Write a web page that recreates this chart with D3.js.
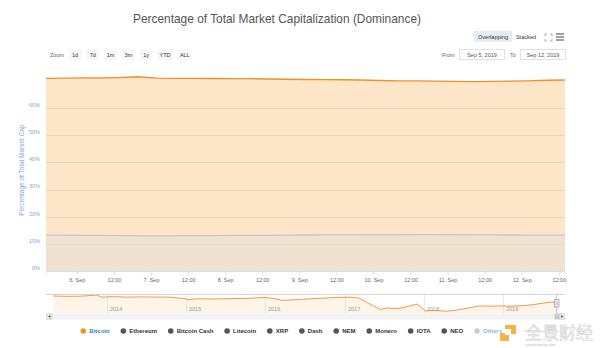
<!DOCTYPE html>
<html><head><meta charset="utf-8">
<script src="https://cdn.jsdelivr.net/npm/d3@7"></script>
<style>
body{margin:0;background:#fff}
svg{display:block;font-family:"Liberation Sans",Arial,sans-serif}
</style>
</head><body>
<svg id="c" width="600" height="348"></svg>
<script>
// ---------- DATA ----------
const title = "Percentage of Total Market Capitalization (Dominance)";
const times = ["2019-09-05T14:00","2019-09-05T20:00","2019-09-06T02:00","2019-09-06T08:00","2019-09-06T14:00","2019-09-06T20:00",
  "2019-09-07T02:00","2019-09-07T08:00","2019-09-07T14:00","2019-09-07T20:00","2019-09-08T02:00","2019-09-08T08:00",
  "2019-09-08T14:00","2019-09-08T20:00","2019-09-09T02:00","2019-09-09T08:00","2019-09-09T14:00","2019-09-09T20:00",
  "2019-09-10T02:00","2019-09-10T08:00","2019-09-10T14:00","2019-09-10T20:00","2019-09-11T02:00","2019-09-11T08:00",
  "2019-09-11T14:00","2019-09-11T20:00","2019-09-12T02:00","2019-09-12T08:00","2019-09-12T14:00"];
const bitcoin = [70.9,71.0,71.1,71.1,71.2,71.5,71.0,70.9,70.9,70.85,70.8,70.8,70.7,70.6,70.5,70.45,70.4,70.3,
  70.1,70.0,70.0,69.9,69.8,69.7,69.8,69.9,70.0,70.2,70.3];
const others = [13.2,13.2,13.1,13.1,13.0,12.95,12.9,12.95,13.0,13.05,13.1,13.1,13.15,13.2,13.25,13.3,13.3,13.3,
  13.35,13.35,13.4,13.4,13.35,13.3,13.3,13.25,13.2,13.2,13.2];
const yTicks = [0,10,20,30,40,50,60];
const yTitle = "Percentage of Total Market Cap";

const navDates = ["2013-04-28","2013-07-01","2013-09-01","2013-11-15","2013-12-10","2014-02-01","2014-04-01","2014-06-01",
  "2014-08-01","2014-10-15","2014-12-20","2015-01-15","2015-03-01","2015-05-01","2015-08-01","2015-11-01","2016-01-01",
  "2016-02-15","2016-03-20","2016-06-01","2016-08-01","2016-11-01","2017-01-01","2017-02-15","2017-03-10","2017-04-15",
  "2017-06-15","2017-07-15","2017-09-01","2017-10-15","2017-12-01","2017-12-20","2018-01-10","2018-02-15","2018-04-15",
  "2018-06-01","2018-08-01","2018-09-15","2018-11-01","2018-12-15","2019-02-15","2019-04-01","2019-05-15","2019-07-01",
  "2019-08-01","2019-09-12"];
const navBitcoin = [90.5,89,89.5,94,86,88,86,87,86.5,86,81,77,80,79,80.5,82,85,80,74,77,80,84,86,85,82,66,
  40,45,43,50,60,48,34,36,33,37,46,53,52,53,52,54,57,63,66,70];
const navYears = ["2014","2015","2016","2017","2018","2019"];

const legendNames = ["Bitcoin","Ethereum","Bitcoin Cash","Litecoin","XRP","Dash","NEM","Monero","IOTA","NEO","Others"];
const legendColors = ["#f7931a","#555","#555","#555","#555","#555","#555","#555","#555","#555","#cccccc"];
const legendVisible = [true,false,false,false,false,false,false,false,false,false,true];
const zoomButtons = ["1d","7d","1m","3m","1y","YTD","ALL"];
const fromDate = "Sep 5, 2019", toDate = "Sep 12, 2019";

// ---------- CHART ----------
const svg = d3.select("#c");
const parseT = d3.timeParse("%Y-%m-%dT%H:%M");
const parseD = d3.timeParse("%Y-%m-%d");
const T = times.map(parseT);

const x = d3.scaleTime().domain([T[0], T[T.length-1]]).range([46, 565]);
const y = d3.scaleLinear().domain([0, 60]).range([271, 108]);
const blue = "#7ea6de";

svg.append("rect").attr("width",600).attr("height",348).attr("fill","#fff");

// title
svg.append("text").attr("x",277).attr("y",23).attr("text-anchor","middle")
  .attr("font-size",11.9).attr("fill","#555").text(title);

// top-right buttons
svg.append("rect").attr("x",474).attr("y",31).attr("width",38).attr("height",11).attr("fill","#e6ebf5");
svg.append("text").attr("x",493).attr("y",38.6).attr("text-anchor","middle").attr("font-size",5.6).attr("fill","#333").text("Overlapping");
svg.append("text").attr("x",526).attr("y",38.6).attr("text-anchor","middle").attr("font-size",5.6).attr("fill","#333").text("Stacked");
// fullscreen icon
const fs = svg.append("g").attr("stroke","#999").attr("stroke-width",0.8).attr("fill","none");
[[545,34,1,1],[552,34,-1,1],[545,41,1,-1],[552,41,-1,-1]].forEach(([px,py,dx,dy])=>{
  fs.append("path").attr("d",`M${px},${py+2*dy}L${px},${py}L${px+2*dx},${py}`);
});
// menu icon
[34,37,40].forEach(yy=>svg.append("line").attr("x1",556).attr("x2",564).attr("y1",yy).attr("y2",yy)
  .attr("stroke","#555").attr("stroke-width",1.1));

// zoom buttons
svg.append("text").attr("x",50).attr("y",56.5).attr("font-size",5.5).attr("fill","#666").text("Zoom");
const zb = svg.append("g");
let zx = 68.5;
zoomButtons.forEach(b=>{
  const w = b.length>2 ? 15 : 13;
  zb.append("rect").attr("x",zx).attr("y",49).attr("width",w).attr("height",11).attr("fill","#f7f7f7");
  zb.append("text").attr("x",zx+w/2).attr("y",56.5).attr("text-anchor","middle").attr("font-size",5.5).attr("fill","#333").text(b);
  zx += w + 4.8;
});

// From / To
svg.append("text").attr("x",442).attr("y",56.5).attr("font-size",5.5).attr("fill","#666").text("From");
svg.append("rect").attr("x",459.5).attr("y",49.5).attr("width",45).attr("height",10).attr("fill","#fff").attr("stroke","#ccc").attr("stroke-width",0.6);
svg.append("text").attr("x",482).attr("y",56.5).attr("text-anchor","middle").attr("font-size",5.5).attr("fill","#555").text(fromDate);
svg.append("text").attr("x",510).attr("y",56.5).attr("font-size",5.5).attr("fill","#666").text("To");
svg.append("rect").attr("x",520.5).attr("y",49.5).attr("width",45).attr("height",10).attr("fill","#fff").attr("stroke","#ccc").attr("stroke-width",0.6);
svg.append("text").attr("x",543).attr("y",56.5).attr("text-anchor","middle").attr("font-size",5.5).attr("fill","#555").text(toDate);

// grid lines
const grid = svg.append("g");
yTicks.forEach(v=>{
  grid.append("line").attr("x1",46).attr("x2",565).attr("y1",Math.round(y(v))+0.5).attr("y2",Math.round(y(v))+0.5)
    .attr("stroke","#e6e6e6").attr("stroke-width",1);
});

// areas
const btcData = T.map((t,i)=>({t, v:bitcoin[i]}));
const othData = T.map((t,i)=>({t, v:others[i]}));
const area = d3.area().x(d=>x(d.t)).y0(y(0)).y1(d=>y(d.v));
const line = d3.line().x(d=>x(d.t)).y(d=>y(d.v));
svg.append("path").datum(btcData).attr("d",area).attr("fill","#f7931a").attr("fill-opacity",0.24);
svg.append("path").datum(othData).attr("d",area).attr("fill","#dedede").attr("fill-opacity",0.42);
svg.append("path").datum(othData).attr("d",line).attr("fill","none").attr("stroke","#c6c6c6").attr("stroke-width",1.3);
svg.append("path").datum(btcData).attr("d",line).attr("fill","none").attr("stroke","#f0902a").attr("stroke-width",1.4);

// y axis labels
const ya = svg.append("g").attr("transform","translate(40,0)")
  .call(d3.axisLeft(y).tickValues(yTicks).tickFormat(d=>d+"%").tickSize(0));
ya.select(".domain").remove();
ya.selectAll("text").attr("font-size",5.5).attr("fill",blue).attr("font-family","Liberation Sans, Arial, sans-serif")
  .attr("x",0).attr("dy","0").attr("y",-1.6);
svg.append("text").attr("transform","translate(24,170) rotate(-90)").attr("text-anchor","middle")
  .attr("font-size",6.5).attr("fill",blue).text(yTitle);

// x axis
const fmtDay = d3.timeFormat("%-d. %b"), fmtHr = d3.timeFormat("%H:%M");
const xa = svg.append("g").attr("transform","translate(0,271)")
  .call(d3.axisBottom(x).ticks(d3.timeHour.every(12)).tickSize(4).tickPadding(3)
    .tickFormat(d=>d.getHours()===0 ? fmtDay(d) : fmtHr(d)));
xa.select(".domain").attr("stroke","#ccd6eb").attr("stroke-width",0.6);
xa.selectAll(".tick line").attr("stroke","#ccd6eb").attr("stroke-width",0.7);
xa.selectAll("text").attr("font-size",5.5).attr("fill","#666").attr("font-family","Liberation Sans, Arial, sans-serif");

// ---------- NAVIGATOR ----------
const ND = navDates.map(parseD);
const nx = d3.scaleTime().domain([ND[0], ND[ND.length-1]]).range([53, 558]);
const ny = d3.scaleLinear().domain([30, 96]).range([312, 294.5]);
const navData = ND.map((t,i)=>({t, v:navBitcoin[i]}));
navYears.forEach(yr=>{
  const xx = Math.round(nx(parseD(yr+"-01-01")))+0.5;
  svg.append("line").attr("x1",xx).attr("x2",xx).attr("y1",294).attr("y2",313).attr("stroke","#e6e6e6").attr("stroke-width",0.8);
  svg.append("text").attr("x",xx+2.5).attr("y",311).attr("font-size",5.5).attr("fill","#999").text(yr);
});
svg.append("path").datum(navData)
  .attr("d",d3.area().x(d=>nx(d.t)).y0(313).y1(d=>ny(d.v))).attr("fill","#f7931a").attr("fill-opacity",0.1);
svg.append("path").datum(navData)
  .attr("d",d3.line().x(d=>nx(d.t)).y(d=>ny(d.v))).attr("fill","none").attr("stroke","#f0902a").attr("stroke-width",0.9);
svg.append("line").attr("x1",46).attr("x2",565).attr("y1",294.5).attr("y2",294.5).attr("stroke","#cccccc").attr("stroke-width",0.8);
svg.append("line").attr("x1",556.5).attr("x2",556.5).attr("y1",294).attr("y2",313).attr("stroke","#bbb").attr("stroke-width",0.8);
svg.append("rect").attr("x",554.5).attr("y",299.5).attr("width",4.5).attr("height",7.5).attr("fill","#f2f2f2").attr("stroke","#999").attr("stroke-width",0.7);
[556.2,557.4].forEach(xx=>svg.append("line").attr("x1",xx).attr("x2",xx).attr("y1",301.5).attr("y2",305).attr("stroke","#999").attr("stroke-width",0.5));
svg.append("rect").attr("x",46).attr("y",313.5).attr("width",519).attr("height",6).attr("fill","#f2f2f2");
svg.append("rect").attr("x",46.5).attr("y",313.8).attr("width",5.5).attr("height",5.5).attr("fill","#e6e6e6").attr("stroke","#ccc").attr("stroke-width",0.5);
svg.append("path").attr("d","M50.3,315.3L48.3,316.55L50.3,317.8Z").attr("fill","#333");
svg.append("rect").attr("x",554.5).attr("y",313.5).attr("width",5).attr("height",6).attr("fill","#ccc");
svg.append("rect").attr("x",559.5).attr("y",313.8).attr("width",5.5).attr("height",5.5).attr("fill","#e6e6e6").attr("stroke","#ccc").attr("stroke-width",0.5);
svg.append("path").attr("d","M561.2,315.3L563.2,316.55L561.2,317.8Z").attr("fill","#333");

// ---------- LEGEND ----------
const lg = svg.append("g").attr("font-size",6).attr("font-weight","bold");
let lx = 83.3;
legendNames.forEach((n,i)=>{
  lg.append("circle").attr("cx",lx).attr("cy",331).attr("r",2.8).attr("fill",legendColors[i]);
  const t = lg.append("text").attr("x",lx+6).attr("y",333.1)
    .attr("fill", legendVisible[i] ? (i===0 ? "#3b7bc8" : "#8fb3dd") : "#333").text(n);
  const w = t.node().getComputedTextLength();
  lx += w + 6 + 13.7;
});

// watermark
const wm = svg.append("g");
wm.append("rect").attr("x",505).attr("y",325).attr("width",11).attr("height",9).attr("fill","#f5a623").attr("opacity",0.85);
wm.append("rect").attr("x",500).attr("y",333).attr("width",9).attr("height",8).attr("fill","#f5a623").attr("opacity",0.85);
wm.append("rect").attr("x",505).attr("y",329).attr("width",6).attr("height",6).attr("fill","#fff");
wm.append("text").attr("x",525).attr("y",339).attr("font-size",17).attr("fill","#fff").attr("stroke","#d0d0d0")
  .attr("stroke-width",0.6).attr("font-family","Noto Sans CJK SC").text("全景财经");
wm.append("text").attr("x",525).attr("y",346).attr("font-size",3.5).attr("fill","#bbb").text("coinmarketcap.com");
</script>
</body></html>
